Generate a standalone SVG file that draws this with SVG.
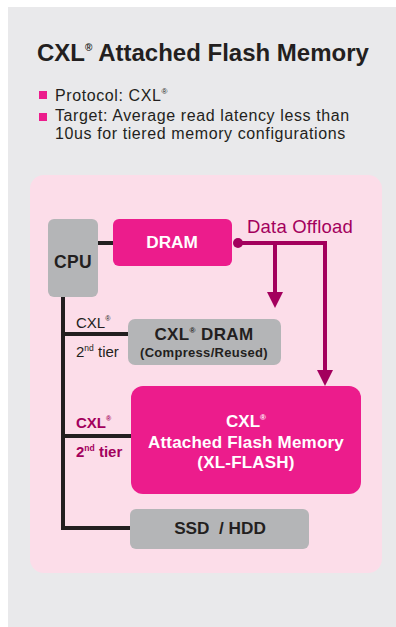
<svg xmlns="http://www.w3.org/2000/svg" width="396" height="627" viewBox="0 0 396 627">
<style>
text{font-family:"Liberation Sans",Arial,sans-serif}
.b{font-weight:bold}
.dk{fill:#231f20}
.wh{fill:#ffffff}
.mg{fill:#a3005d}
.gbox{fill:#b4b5b7}
.pbox{fill:#ec1c8c}
.ln{stroke:#231f20;stroke-width:4;fill:none}
.off{stroke:#a3005d;stroke-width:4;fill:none}
.bul{font-size:16px;letter-spacing:0.6px}
.lbl{font-size:15px}
</style>
<rect x="8" y="7" width="388" height="620" fill="#e9e9eb"/>
<text x="37" y="61" class="b dk" font-size="24">CXL<tspan font-size="10" dy="-10">®</tspan><tspan dy="10"> Attached Flash Memory</tspan></text>
<rect x="39" y="91" width="8" height="8" fill="#ec1c8c"/>
<rect x="39" y="113" width="8" height="8" fill="#ec1c8c"/>
<text x="55" y="101" class="dk bul">Protocol: CXL<tspan font-size="8" dy="-7">®</tspan></text>
<text x="55" y="121" class="dk bul">Target: Average read latency less than</text>
<text x="55" y="139" class="dk bul">10us for tiered memory configurations</text>
<rect x="30" y="175" width="352" height="398" rx="14" fill="#fcdde9"/>
<g id="connectors">
<line class="ln" x1="98" y1="243" x2="114" y2="243"/>
<polyline class="ln" points="63,297 63,528 131,528"/>
<line class="ln" x1="63" y1="334" x2="129" y2="334"/>
<line class="ln" x1="63" y1="436" x2="132" y2="436"/>
<polyline class="off" points="238,243 325,243 325,372"/>
<line class="off" x1="275" y1="243" x2="275" y2="294"/>
<path d="M267,292 L283,292 L275,308 Z" fill="#a3005d"/>
<path d="M317,370 L333,370 L325,386 Z" fill="#a3005d"/>
<circle cx="238" cy="243" r="5" fill="#a3005d"/>
<text x="247" y="233" class="mg" font-size="18.5" letter-spacing="0.2">Data Offload</text>
<text x="76" y="328" class="dk lbl">CXL<tspan font-size="7" dy="-7">®</tspan></text>
<text x="76" y="357" class="dk lbl">2<tspan font-size="8.5" dy="-6">nd</tspan><tspan dy="6"> tier</tspan></text>
<text x="76" y="428" class="b mg lbl">CXL<tspan font-size="7" dy="-7">®</tspan></text>
<text x="76" y="457" class="b mg lbl">2<tspan font-size="8.5" dy="-6">nd</tspan><tspan dy="6"> tier</tspan></text>
</g>
<g id="cpu">
<rect class="gbox" x="48" y="219" width="50" height="78" rx="6"/>
<text x="73" y="268" class="b dk" font-size="17.5" letter-spacing="0.3" text-anchor="middle">CPU</text>
</g>
<g id="dram">
<rect class="pbox" x="113" y="219" width="119" height="47" rx="6"/>
<text x="172" y="248" class="b wh" font-size="17.2" text-anchor="middle">DRAM</text>
</g>
<g id="cxl-dram">
<rect class="gbox" x="128" y="319" width="153" height="46" rx="7"/>
<text x="204" y="340" class="b dk" font-size="17" letter-spacing="0.4" text-anchor="middle">CXL<tspan font-size="8" dy="-7">®</tspan><tspan dy="7">  DRAM</tspan></text>
<text x="204" y="357" class="b dk" font-size="13" letter-spacing="0.3" text-anchor="middle">(Compress/Reused)</text>
</g>
<g id="cxl-flash">
<rect class="pbox" x="131" y="386" width="230" height="108" rx="12"/>
<text x="246" y="427" class="b wh" font-size="17" text-anchor="middle">CXL<tspan font-size="8" dy="-7">®</tspan></text>
<text x="246" y="448" class="b wh" font-size="17" letter-spacing="0.2" text-anchor="middle">Attached Flash Memory</text>
<text x="246" y="468" class="b wh" font-size="17" letter-spacing="0.2" text-anchor="middle">(XL-FLASH)</text>
</g>
<g id="ssd-hdd">
<rect class="gbox" x="130" y="509" width="179" height="40" rx="6"/>
<text x="220" y="534" class="b dk" font-size="17.2" text-anchor="middle" xml:space="preserve">SSD  / HDD</text>
</g>
</svg>
